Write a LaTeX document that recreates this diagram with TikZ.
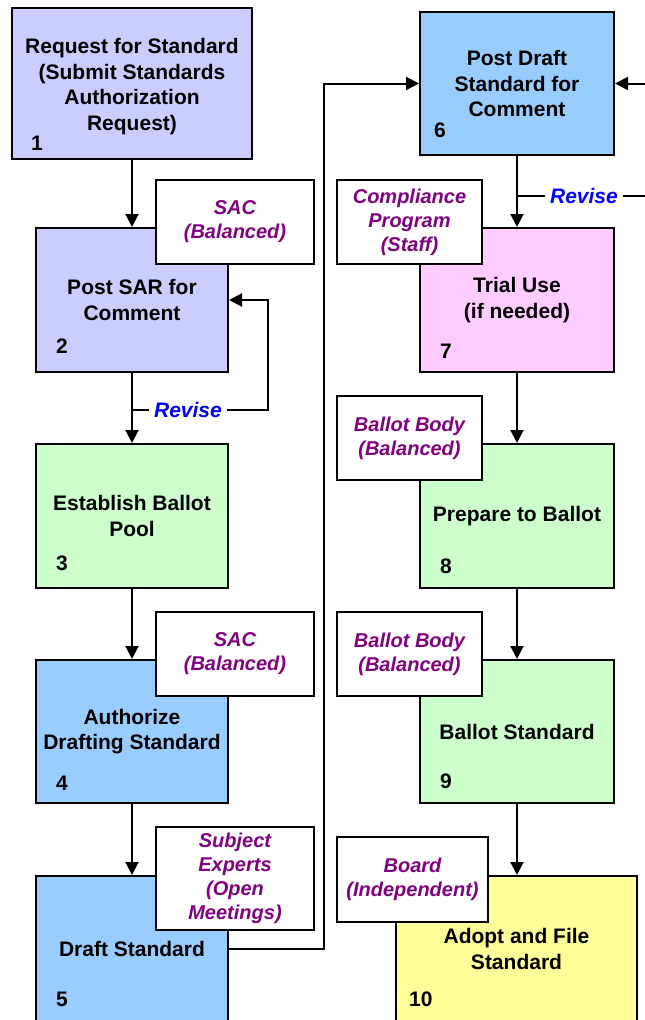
\documentclass[tikz,border=0pt]{standalone}
\usepackage{fontspec}
\setmainfont{Liberation Sans}
\usetikzlibrary{arrows.meta}
\definecolor{lav}{HTML}{CCCCFF}
\definecolor{grn}{HTML}{CCFFCC}
\definecolor{blu}{HTML}{99CCFF}
\definecolor{pnk}{HTML}{FFCCFF}
\definecolor{yel}{HTML}{FFFF99}
\definecolor{lblpurple}{HTML}{800080}
\definecolor{revblue}{HTML}{0000FF}
\begin{document}
\begin{tikzpicture}[x=1pt,y=-1pt,
  box/.style={draw=black, line width=2pt, align=center, inner sep=0pt,
    font=\fontsize{21}{25.5}\selectfont\bfseries},
  boxtext/.style={align=center, inner sep=0pt, font=\fontsize{21}{25.5}\selectfont\bfseries},
  lbl/.style={draw=black, line width=2pt, fill=white, align=center, inner sep=0pt,
    text=lblpurple, font=\fontsize{20}{24}\selectfont\bfseries\itshape},
  num/.style={anchor=base west, inner sep=0pt, font=\fontsize{21}{25}\selectfont\bfseries},
  rev/.style={inner ysep=2pt, inner xsep=5pt, text=revblue, font=\fontsize{21}{25}\selectfont\bfseries\itshape},
  arr/.style={line width=2pt, -{Triangle[length=13pt,width=13pt]}},
  ln/.style={line width=2pt}]
\useasboundingbox (0,0) rectangle (645,1020);

% main boxes
\node[box, fill=lav, minimum width=240pt, minimum height=151pt] (b1) at (132,83.5) {};
\node[boxtext] (t1) at (132,86.5)
  {Request for Standard\\(Submit Standards\\Authorization\\Request)};
\node[box, fill=lav, minimum width=192pt, minimum height=144pt] (b2) at (132,300)
  {Post SAR for\\Comment};
\node[box, fill=grn, minimum width=192pt, minimum height=144pt] (b3) at (132,516)
  {Establish Ballot\\Pool};
\node[box, fill=blu, minimum width=192pt, minimum height=143pt] (b4) at (132,731.5)
  {Authorize\\Drafting Standard};
\node[box, fill=blu, minimum width=192pt, minimum height=146pt] (b5) at (132,949)
  {Draft Standard};
\node[box, fill=blu, minimum width=194pt, minimum height=143pt] (b6) at (517,83.5)
  {Post Draft\\Standard for\\Comment};
\node[box, fill=pnk, minimum width=194pt, minimum height=144pt] (b7) at (517,300)
  {Trial Use\\(if needed)};
\node[box, fill=grn, minimum width=194pt, minimum height=144pt] (b8) at (517,516)
  {Prepare to Ballot};
\node[box, fill=grn, minimum width=194pt, minimum height=143pt] (b9) at (517,731.5)
  {Ballot Standard};
\node[box, fill=yel, minimum width=241pt, minimum height=146pt] (b10) at (516.5,949)
  {Adopt and File\\Standard};

% step numbers
\node[num] (n1) at (31,150) {1};
\node[num] (n2) at (56,353) {2};
\node[num] (n3) at (56,570) {3};
\node[num] (n4) at (56,790) {4};
\node[num] (n5) at (56,1006) {5};
\node[num] (n6) at (434,137) {6};
\node[num] (n7) at (440,358) {7};
\node[num] (n8) at (440,573) {8};
\node[num] (n9) at (440,788) {9};
\node[num] (n10) at (409,1006) {10};

% revise labels
\node[rev] (rv1) at (188,410) {Revise};
\node[rev] (rv2) at (584,196) {Revise};

% helper coordinates
\coordinate (r1) at (268,300);
\coordinate (k1) at (324,83.5);
\coordinate (e1) at (660,83.5);
\coordinate (e2) at (660,196);

% connectors
\draw[arr] (b1.south) -- (b2.north);
\draw[arr] (b2.south) -- (b3.north);
\draw[ln] (b2.south |- rv1.west) -- (rv1.west);
\draw[arr] (rv1.east) -| (r1) -- (b2.east);
\draw[arr] (b3.south) -- (b4.north);
\draw[arr] (b4.south) -- (b5.north);
\draw[arr] (b5.east) -| (k1) -- (b6.west);
\draw[arr] (e1) -- (b6.east);
\draw[arr] (b6.south) -- (b7.north);
\draw[ln] (b6.south |- rv2.west) -- (rv2.west);
\draw[ln] (rv2.east) -- (e2);
\draw[arr] (b7.south) -- (b8.north);
\draw[arr] (b8.south) -- (b9.north);
\draw[arr] (b9.south) -- (b9.south |- b10.north);

% responsibility labels
\node[lbl, minimum width=158pt, minimum height=84pt] (l1) at (235,222) {SAC\\(Balanced)};
\node[lbl, minimum width=145pt, minimum height=84pt] (l2) at (409.5,222) {Compliance\\Program\\(Staff)};
\node[lbl, minimum width=145pt, minimum height=84pt] (l3) at (409.5,438) {Ballot Body\\(Balanced)};
\node[lbl, minimum width=158pt, minimum height=84pt] (l4) at (235,654) {SAC\\(Balanced)};
\node[lbl, minimum width=145pt, minimum height=84pt] (l5) at (409.5,654) {Ballot Body\\(Balanced)};
\node[lbl, minimum width=158pt, minimum height=103pt] (l6) at (235,878.5) {Subject\\Experts\\(Open\\Meetings)};
\node[lbl, minimum width=151pt, minimum height=85pt] (l7) at (412.5,879.5) {Board\\(Independent)};
\end{tikzpicture}
\end{document}
